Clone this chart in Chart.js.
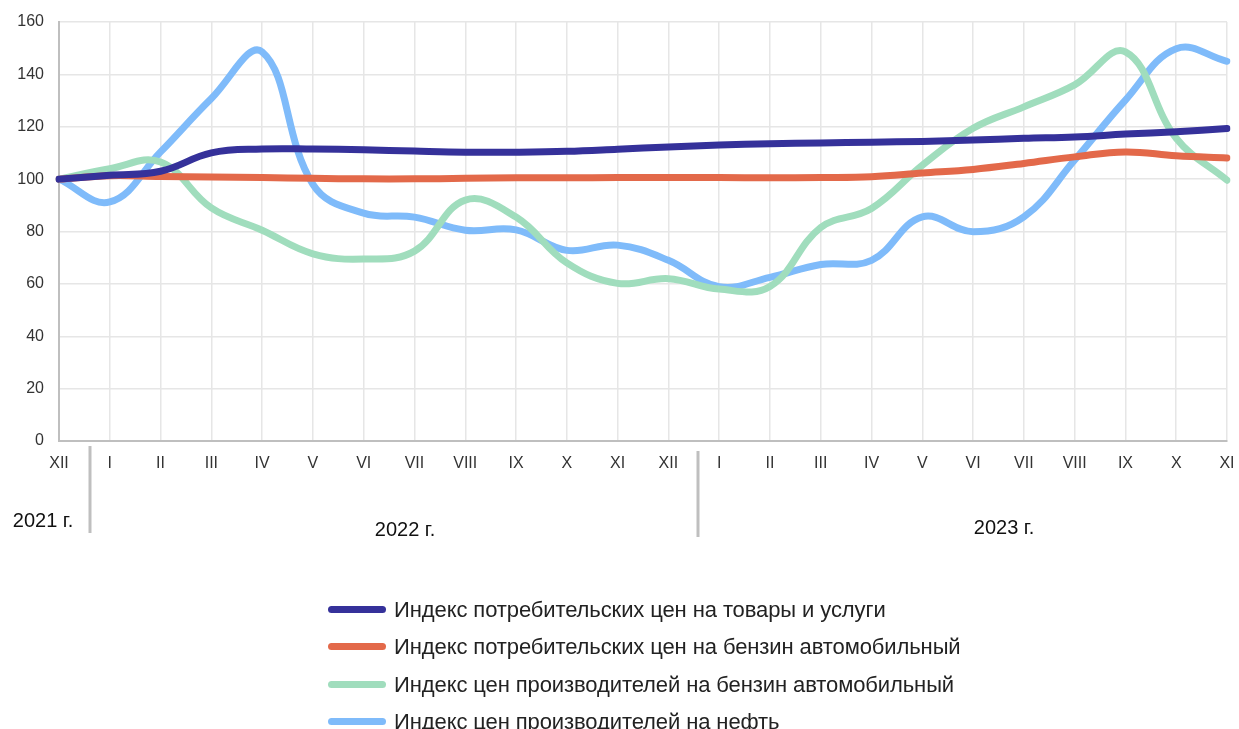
<!DOCTYPE html>
<html><head><meta charset="utf-8">
<script src="https://cdn.jsdelivr.net/npm/chart.js@4"></script>
<style>
html,body{margin:0;padding:0;background:#fff;}
#wrap{position:relative;width:1239px;height:729px;overflow:hidden;}
#legend{position:absolute;left:328px;top:596px;font-family:"Liberation Sans",Arial,sans-serif;font-size:22px;color:#222;}
.li{position:relative;height:37.3px;line-height:28px;}
.sw{position:absolute;left:0;top:10px;width:58px;height:7px;border-radius:4px;}
.tx{position:absolute;left:66px;top:0;white-space:nowrap;letter-spacing:-0.1px;}
</style></head><body>
<div id="wrap"><canvas id="c" width="1239" height="729"></canvas><div id="legend"></div></div>
<script>
const months = ["XII","I","II","III","IV","V","VI","VII","VIII","IX","X","XI","XII","I","II","III","IV","V","VI","VII","VIII","IX","X","XI"];
const yearLabels = ["2021 г.","2022 г.","2023 г."];
const seriesNames = [
 "Индекс потребительских цен на товары и услуги",
 "Индекс потребительских цен на бензин автомобильный",
 "Индекс цен производителей на бензин автомобильный",
 "Индекс цен производителей на нефть"
];
const cpiAll = [100,101.5,103,110,111.5,111.5,111.2,110.7,110.3,110.3,110.6,111.4,112.3,113,113.5,113.8,114.1,114.4,114.9,115.6,116.1,117.2,118.1,119.3];
const cpiPetrol = [100,101.3,101,100.8,100.6,100.3,100.1,100.1,100.3,100.5,100.5,100.6,100.6,100.6,100.5,100.6,100.9,102.3,103.7,106,108.5,110.4,108.9,108.1];
const ppiPetrol = [100,104,106.5,89,80.5,71.5,69.5,72.5,92,85.5,68,60.2,62,58,59,81.5,88.8,105.3,119.4,127.6,136,148.6,115.6,99.6];
const ppiOil = [100,91.3,110.4,130.8,148.6,98,87,85.5,80.5,80.6,72.8,74.8,69,58.9,62.5,67.4,69,85.6,79.9,85.6,107.3,130.2,149.8,145];
const colors = ["#35319A","#E3694A","#A0DDBD","#7FBBFA"];
const yTicks = [0,20,40,60,80,100,120,140,160];

const data = [cpiAll, cpiPetrol, ppiPetrol, ppiOil];
const FONT = '"Liberation Sans", Arial, sans-serif';

const yearPlugin = {
  id:'years',
  afterDraw(chart){
    const ctx = chart.ctx;
    ctx.save();
    ctx.strokeStyle = '#bfbfbf';
    ctx.lineWidth = 3;
    ctx.beginPath(); ctx.moveTo(90,446); ctx.lineTo(90,533); ctx.stroke();
    ctx.beginPath(); ctx.moveTo(698,451); ctx.lineTo(698,537); ctx.stroke();
    ctx.fillStyle = '#111';
    ctx.font = '20px ' + FONT;
    ctx.textAlign = 'center'; ctx.textBaseline = 'middle';
    ctx.fillText(yearLabels[0], 43, 521);
    ctx.fillText(yearLabels[1], 405, 530);
    ctx.fillText(yearLabels[2], 1004, 528);
    ctx.restore();
  }
};

new Chart(document.getElementById('c'), {
  type:'line',
  data:{
    labels: months,
    datasets: data.map((d,i)=>({
      label: seriesNames[i], data: d, borderColor: colors[i], backgroundColor: colors[i],
      borderWidth: 7, pointRadius: 0, tension: 0.4, fill:false, borderCapStyle:'round', borderJoinStyle:'round'
    }))
  },
  options:{
    responsive:false, animation:false,
    layout:{padding:{left:0,top:0,right:0,bottom:0}},
    plugins:{legend:{display:false}, tooltip:{enabled:false}},
    scales:{
      x:{
        offset:false,
        grid:{color:'#e6e6e6', lineWidth:1.5, drawTicks:false},
        border:{color:'#bfbfbf', width:2},
        ticks:{color:'#333', font:{family:FONT, size:16}, padding:13, maxRotation:0, autoSkip:false},
        afterFit(s){ s.height = 729-441; s.paddingRight = 12; s.paddingLeft = 0; }
      },
      y:{
        min:0, max:160,
        afterBuildTicks(s){ s.ticks = yTicks.map(v=>({value:v})); },
        grid:{color:'#e6e6e6', lineWidth:1.5, drawTicks:false},
        border:{color:'#bfbfbf', width:2},
        ticks:{color:'#333', font:{family:FONT, size:16}, padding:15},
        afterFit(s){ s.width = 59; s.paddingTop = 22; s.paddingBottom = 0; }
      }
    }
  },
  plugins:[yearPlugin]
});

const lg = document.getElementById('legend');
seriesNames.forEach((n,i)=>{
  const d = document.createElement('div'); d.className='li';
  d.innerHTML = '<span class="sw" style="background:'+colors[i]+'"></span><span class="tx"></span>';
  d.querySelector('.tx').textContent = n;
  lg.appendChild(d);
});
</script>
</body></html>
